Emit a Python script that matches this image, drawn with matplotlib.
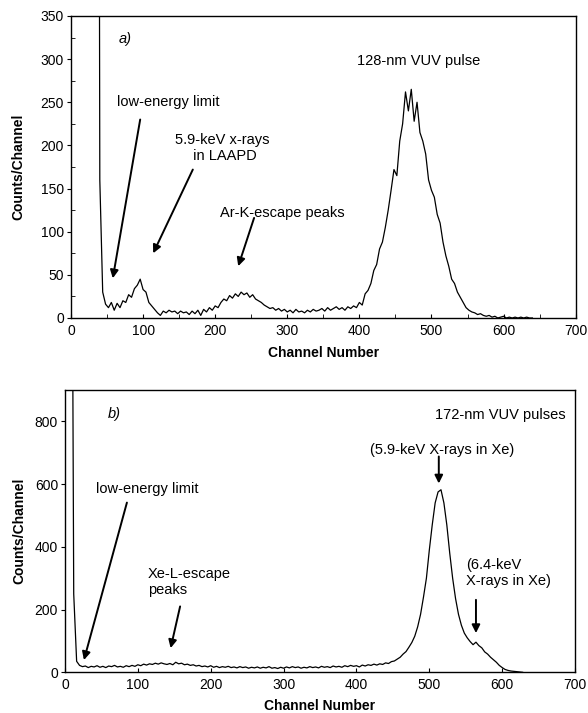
import numpy as np
import matplotlib
matplotlib.use('Agg')
import matplotlib.pyplot as plt
from matplotlib.ticker import MultipleLocator

plt.rcParams['font.family'] = ['Liberation Sans', 'DejaVu Sans']
plt.rcParams['font.size'] = 10.5

# panel a) 128-nm VUV, channels start at 36, step 4
counts_a = [2000, 160, 30, 16, 12, 18, 9, 17, 12, 20, 18, 27, 24, 34, 38, 45, 33, 30, 18, 14,
            10, 6, 3, 8, 6, 9, 7, 8, 5, 8, 6, 7, 4, 8, 5, 9, 3, 10, 7, 12,
            9, 14, 12, 18, 22, 20, 26, 23, 28, 25, 30, 27, 29, 24, 27, 22, 20, 18, 15, 13,
            11, 12, 9, 11, 8, 10, 7, 9, 6, 10, 7, 8, 6, 9, 7, 10, 8, 9, 11, 8,
            12, 9, 11, 13, 10, 12, 9, 13, 11, 14, 12, 18, 15, 28, 32, 40, 55, 62, 80, 88,
            105, 125, 148, 172, 165, 205, 225, 262, 240, 265, 228, 250, 215, 205, 190, 160, 148, 140, 120, 110,
            88, 72, 60, 45, 40, 30, 24, 18, 12, 9, 7, 6, 4, 5, 3, 2, 3, 1, 2, 0,
            1, 2, 0, 1, 0, 1, 0, 1, 0, 1, 0, 0]
start_a, step_a = 36, 4

# panel b) 172-nm VUV, channels start at 8, step 4
counts_b = [2500, 250, 35, 22, 18, 20, 15, 19, 17, 21, 16, 19, 15, 20, 18, 22, 17, 19, 16, 21,
            18, 22, 19, 24, 21, 26, 23, 27, 25, 29, 26, 30, 27, 25, 28, 24, 32, 27, 29, 24,
            26, 22, 24, 20, 22, 18, 20, 17, 21, 16, 19, 15, 18, 16, 19, 15, 17, 14, 18, 15,
            17, 13, 16, 14, 17, 13, 16, 14, 18, 13, 15, 12, 16, 13, 17, 14, 18, 15, 17, 13,
            16, 14, 18, 15, 17, 14, 19, 16, 18, 15, 20, 17, 19, 16, 21, 18, 22, 19, 21, 17,
            23, 20, 24, 22, 26, 23, 27, 25, 30, 28, 34, 36, 42, 48, 58, 66, 80, 95, 115, 145,
            185, 240, 300, 390, 470, 540, 575, 582, 540, 470, 380, 300, 235, 185, 150, 125, 110, 98, 88, 96,
            85, 78, 65, 58, 48, 40, 32, 22, 15, 9, 6, 4, 3, 2, 1, 0]
start_b, step_b = 8, 4

ch_a = start_a + step_a * np.arange(len(counts_a))
ch_b = start_b + step_b * np.arange(len(counts_b))

fig = plt.figure(figsize=(5.88, 7.13), dpi=100)
ax1 = fig.add_axes([0.1207, 0.554, 0.8583, 0.4236])
ax2 = fig.add_axes([0.1105, 0.0571, 0.8675, 0.3959])

arrow = dict(arrowstyle='-|>', color='black', lw=1.4, mutation_scale=12, shrinkA=0, shrinkB=0)

# top panel
ax1.plot(ch_a, counts_a, color='black', lw=0.9)
ax1.set_xlim(0, 700)
ax1.set_ylim(0, 350)
ax1.xaxis.set_major_locator(MultipleLocator(100))
ax1.xaxis.set_minor_locator(MultipleLocator(50))
ax1.yaxis.set_major_locator(MultipleLocator(50))
ax1.yaxis.set_minor_locator(MultipleLocator(25))
ax1.set_xlabel('Channel Number', fontweight='bold', fontsize=10, labelpad=6)
ax1.set_ylabel('Counts/Channel', fontweight='bold', fontsize=10, labelpad=11)
ax1.text(66, 323, 'a)', style='italic', va='center')
ax1.text(64, 250, 'low-energy limit', va='center')
ax1.annotate('', xy=(58, 46), xytext=(96, 230), arrowprops=arrow)
ax1.text(210, 197, '5.9-keV x-rays\n in LAAPD', ha='center', va='center', linespacing=1.2)
ax1.annotate('', xy=(114, 75), xytext=(169, 172), arrowprops=arrow)
ax1.text(207, 122, 'Ar-K-escape peaks', va='center')
ax1.annotate('', xy=(232, 60), xytext=(254, 116), arrowprops=arrow)
ax1.text(482, 298, '128-nm VUV pulse', ha='center', va='center')

# bottom panel
ax2.plot(ch_b, counts_b, color='black', lw=0.9)
ax2.set_xlim(0, 700)
ax2.set_ylim(0, 900)
ax2.xaxis.set_major_locator(MultipleLocator(100))
ax2.yaxis.set_major_locator(MultipleLocator(200))
ax2.set_xlabel('Channel Number', fontweight='bold', fontsize=10, labelpad=5)
ax2.set_ylabel('Counts/Channel', fontweight='bold', fontsize=10, labelpad=6)
ax2.text(59, 823, 'b)', style='italic', va='center')
ax2.text(42, 583, 'low-energy limit', va='center')
ax2.annotate('', xy=(26, 39), xytext=(85, 541), arrowprops=arrow)
ax2.text(114, 288, 'Xe-L-escape\npeaks', va='center', linespacing=1.2)
ax2.annotate('', xy=(145, 77), xytext=(158, 210), arrowprops=arrow)
ax2.text(597, 820, '172-nm VUV pulses', ha='center', va='center')
ax2.text(518, 708, '(5.9-keV X-rays in Xe)', ha='center', va='center')
ax2.annotate('', xy=(513, 602), xytext=(513, 688), arrowprops=arrow)
ax2.text(550, 316, '(6.4-keV\nX-rays in Xe)', va='center', linespacing=1.2)
ax2.annotate('', xy=(564, 125), xytext=(564, 231), arrowprops=arrow)

for ax in (ax1, ax2):
    ax.tick_params(axis='x', which='both', direction='in', length=3, pad=4)
    ax.tick_params(axis='y', which='major', direction='out', length=3, pad=2)
    ax.tick_params(axis='y', which='minor', direction='in', length=3)
    ax.tick_params(labelsize=10)
    for s in ax.spines.values():
        s.set_linewidth(1.0)

fig.savefig('out.png', dpi=100)
